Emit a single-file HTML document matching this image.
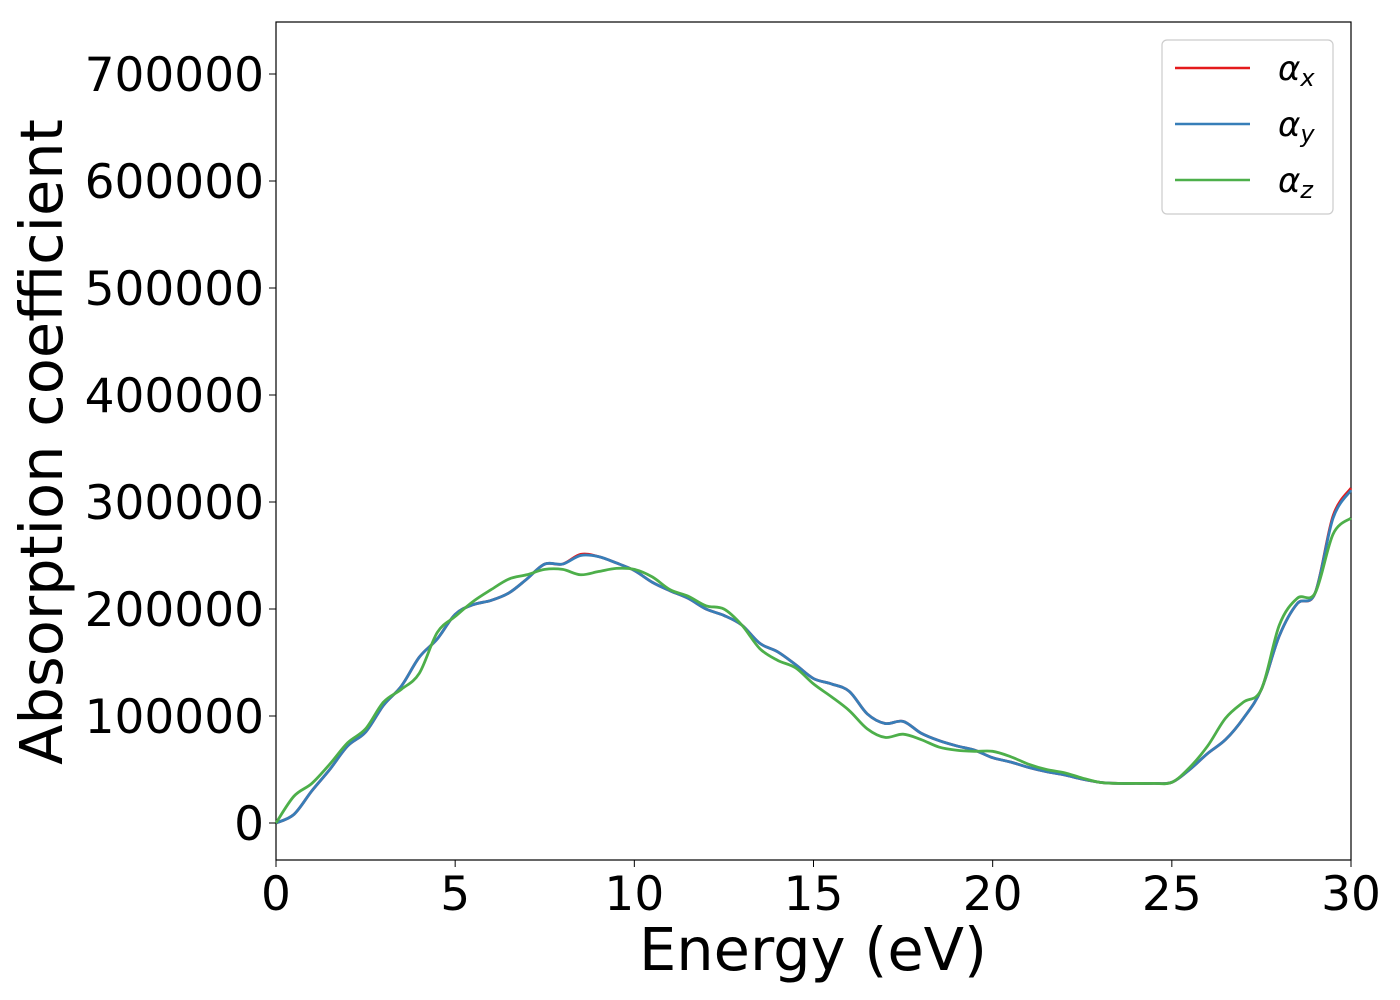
<!DOCTYPE html>
<html><head><meta charset="utf-8"><style>
body{margin:0;background:#fff}
svg{display:block;font-family:"DejaVu Sans","Liberation Sans",sans-serif}
</style></head><body>
<svg width="1400" height="1000" id="chart">
<rect x="276" y="22" width="1075" height="838" fill="#fff" stroke="#000" stroke-width="1.2"/>
<g id="ticks"></g>
<g id="lines"></g>
<text x="813" y="970" font-size="59" text-anchor="middle">Energy (eV)</text>
<text transform="translate(62,442) rotate(-90)" font-size="59" text-anchor="middle">Absorption coefficient</text>
<g>
<rect x="1162" y="40" width="171" height="174" rx="5" fill="#fff" stroke="#ccc" stroke-width="1.2"/>
<g><line x1="1175" y1="68" x2="1250" y2="68" stroke="#e41a1c" stroke-width="2.5"/><text x="1278" y="80" font-size="34" font-style="italic">α<tspan font-size="24" dy="6">x</tspan></text></g>
<g><line x1="1175" y1="124" x2="1250" y2="124" stroke="#377eb8" stroke-width="2.5"/><text x="1278" y="136" font-size="34" font-style="italic">α<tspan font-size="24" dy="6">y</tspan></text></g>
<g><line x1="1175" y1="180" x2="1250" y2="180" stroke="#4daf4a" stroke-width="2.5"/><text x="1278" y="192" font-size="34" font-style="italic">α<tspan font-size="24" dy="6">z</tspan></text></g>
</g>
</svg>
<script>
const energies=[0,0.5,1,1.5,2,2.5,3,3.5,4,4.5,5,5.5,6,6.5,7,7.5,8,8.5,9,9.5,10,10.5,11,11.5,12,12.5,13,13.5,14,14.5,15,15.5,16,16.5,17,17.5,18,18.5,19,19.5,20,20.5,21,21.5,22,22.5,23,23.5,24,24.5,25,25.5,26,26.5,27,27.5,28,28.5,29,29.5,30];
const alphaY=[0,8,30,50,72,85,110,128,155,172,195,204,208,215,228,242,242,250,249,243,236,225,217,210,200,194,185,168,160,148,135,130,123,102,93,95,84,77,72,68,61,57,52,48,45,41,38,37,37,37,38,50,65,78,98,125,175,205,215,285,311];
const alphaX=[0,8,30,50,72,85,110,128,155,172,195,204,208,215,228,242,242,251,249,243,236,225,217,210,200,194,185,168,160,148,135,130,123,102,93,95,84,77,72,68,61,57,52,48,45,41,38,37,37,37,38,50,65,78,98,125,175,205,215,287,313];
const alphaZ=[0,25,37,55,75,88,113,125,140,178,193,207,218,228,232,237,237,232,235,238,237,230,218,212,203,200,185,163,152,145,130,118,105,88,80,83,78,71,68,67,67,62,55,50,47,42,38,37,37,37,38,52,72,98,113,125,185,210,215,270,285];
const xTicks=[0,5,10,15,20,25,30];
const yTicks=[0,100000,200000,300000,400000,500000,600000,700000];
const X=e=>276+e*(1075/30);
const Y=v=>823-v*107/100000;
const NS='http://www.w3.org/2000/svg';
const tg=document.getElementById('ticks');
xTicks.forEach(t=>{
 const l=document.createElementNS(NS,'line');l.setAttribute('x1',X(t));l.setAttribute('x2',X(t));l.setAttribute('y1',860);l.setAttribute('y2',867);l.setAttribute('stroke','#000');tg.appendChild(l);
 const tx=document.createElementNS(NS,'text');tx.setAttribute('x',X(t));tx.setAttribute('y',910);tx.setAttribute('font-size','47');tx.setAttribute('text-anchor','middle');tx.textContent=t;
 
 
 tg.appendChild(tx);
});
yTicks.forEach(t=>{
 const l=document.createElementNS(NS,'line');l.setAttribute('x1',269);l.setAttribute('x2',276);l.setAttribute('y1',Y(t));l.setAttribute('y2',Y(t));l.setAttribute('stroke','#000');tg.appendChild(l);
 const tx=document.createElementNS(NS,'text');tx.setAttribute('x',264);tx.setAttribute('y',Y(t)+17);tx.setAttribute('font-size','47');tx.setAttribute('text-anchor','end');tx.textContent=t;
 
 
 tg.appendChild(tx);
});
function path(vals){
 const p=vals.map((v,i)=>[X(energies[i]),Y(v*1000)]);
 let d='M'+p[0][0]+','+p[0][1];
 for(let i=0;i<p.length-1;i++){
  const p0=p[Math.max(0,i-1)],p1=p[i],p2=p[i+1],p3=p[Math.min(p.length-1,i+2)];
  const c1=[p1[0]+(p2[0]-p0[0])/6,p1[1]+(p2[1]-p0[1])/6];
  const c2=[p2[0]-(p3[0]-p1[0])/6,p2[1]-(p3[1]-p1[1])/6];
  d+=' C'+c1+' '+c2+' '+p2;
 }
 return d;
}
const lg=document.getElementById('lines');
[[alphaX,'#e41a1c','series-alpha-x'],[alphaY,'#377eb8','series-alpha-y'],[alphaZ,'#4daf4a','series-alpha-z']].forEach(s=>{
 const pa=document.createElementNS(NS,'path');pa.setAttribute('d',path(s[0]));pa.setAttribute('fill','none');pa.setAttribute('stroke',s[1]);pa.setAttribute('stroke-width','2.8');
 
 
 lg.appendChild(pa);
});
</script>
</body></html>
